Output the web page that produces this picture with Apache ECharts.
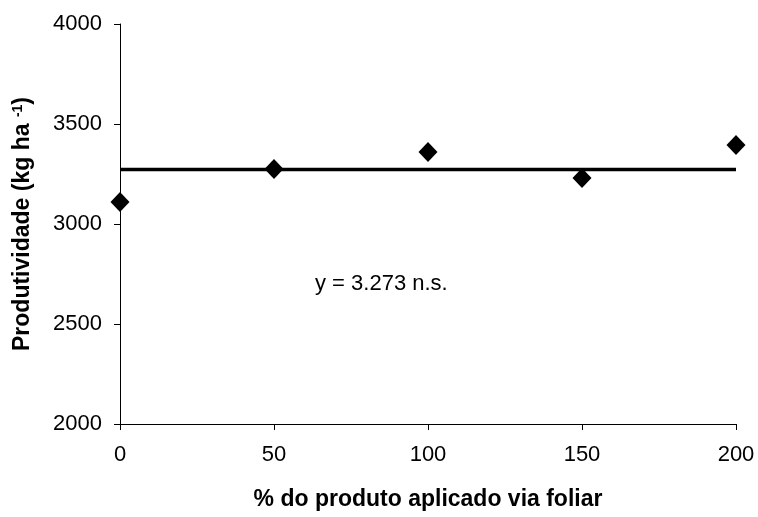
<!DOCTYPE html>
<html>
<head>
<meta charset="utf-8">
<script src="https://cdn.jsdelivr.net/npm/echarts@6/dist/echarts.min.js"></script>
<style>html,body{margin:0;padding:0;background:#fff}#c{width:758px;height:517px}</style>
</head>
<body>
<div id="c"></div>
<script>
var doses = [0, 50, 100, 150, 200];
var produtividade = [3110, 3275, 3360, 3230, 3395];
var fitValue = 3273;
var fitRange = [0, 200];
var equationText = 'y = 3.273 n.s.';
var xName = '% do produto aplicado via foliar';
var yNameMain = 'Produtividade (kg ha ';
var yNameSup = '-1';

var chart = echarts.init(document.getElementById('c'));
var font = 'Liberation Sans, Arial, sans-serif';
chart.setOption({
  animation: false,
  grid: { left: 120, right: 22, top: 24, bottom: 93 },
  xAxis: {
    type: 'value', min: 0, max: 200, interval: 50,
    name: xName, nameLocation: 'middle', nameGap: 64,
    nameTextStyle: { fontFamily: font, fontSize: 23, fontWeight: 'bold', color: '#000' },
    axisLine: { show: true, onZero: false, lineStyle: { color: '#000', width: 1 } },
    axisTick: { show: true, length: 6, lineStyle: { color: '#000' } },
    axisLabel: { fontFamily: font, fontSize: 22, color: '#000', margin: 20,
      formatter: function (v) { return String(v); } },
    splitLine: { show: false }
  },
  yAxis: {
    type: 'value', min: 2000, max: 4000, interval: 500,
    name: '{m|' + yNameMain + '}{s|' + yNameSup + '}{m|)}',
    nameLocation: 'middle', nameGap: 86, nameRotate: 90,
    nameTextStyle: {
      fontFamily: font, fontSize: 23, fontWeight: 'bold', color: '#000',
      rich: {
        m: { fontFamily: font, fontSize: 23, fontWeight: 'bold', color: '#000' },
        s: { fontFamily: font, fontSize: 14, fontWeight: 'bold', color: '#000', verticalAlign: 'top', padding: [0, 0, 9, 0] }
      }
    },
    axisLine: { show: true, lineStyle: { color: '#000', width: 1 } },
    axisTick: { show: true, length: 6, lineStyle: { color: '#000' } },
    axisLabel: { fontFamily: font, fontSize: 22, color: '#000', margin: 18,
      formatter: function (v) { return String(v); } },
    splitLine: { show: false }
  },
  series: [
    {
      type: 'line',
      data: fitRange.map(function (x) { return [x, fitValue]; }),
      symbol: 'none',
      lineStyle: { color: '#000', width: 3.5 },
      z: 1
    },
    {
      type: 'scatter',
      data: doses.map(function (x, i) { return [x, produtividade[i]]; }),
      symbol: 'diamond',
      symbolSize: [19, 20],
      itemStyle: { color: '#000', opacity: 1 },
      z: 2
    }
  ],
  graphic: [
    {
      type: 'text', left: 315, top: 273,
      style: { text: equationText, fontFamily: font, fontSize: 22, fill: '#000' }
    }
  ]
});
</script>
</body>
</html>
